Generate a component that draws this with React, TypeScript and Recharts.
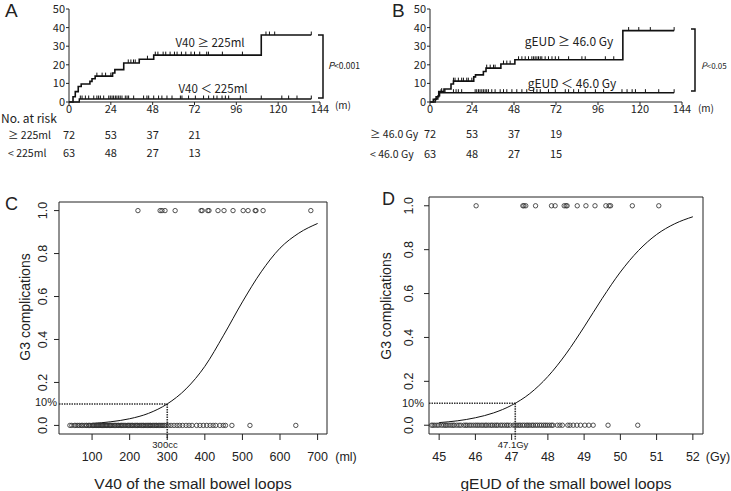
import React from 'react';
import { ComposedChart, Line, Scatter, XAxis, YAxis, ReferenceLine, ReferenceArea } from 'recharts';

const JP = '"Noto Sans CJK JP", "Liberation Sans", sans-serif';
const SANS = '"Liberation Sans", Arial, sans-serif';
const INK = '#222';

// ---- A / B: cumulative incidence (%) by month ----
const monthTicks = [0, 24, 48, 72, 96, 120, 144];
const pctTicks = [0, 10, 20, 30, 40, 50];
const riskMonths = [0, 24, 48, 72];

const v40High = [
  { m: 0, v: 0 }, { m: 2.3, v: 2.8 }, { m: 3.6, v: 5.6 }, { m: 5.3, v: 8.3 }, { m: 7, v: 9.7 },
  { m: 12, v: 11.1 }, { m: 13.2, v: 12.5 }, { m: 15, v: 13.9 }, { m: 25, v: 15.6 }, { m: 26.3, v: 17.4 },
  { m: 31.4, v: 21 }, { m: 40.3, v: 23 }, { m: 48.6, v: 25.2 }, { m: 110.3, v: 36 }, { m: 139, v: 36 },
];
const v40Low = [{ m: 0, v: 0 }, { m: 5.9, v: 1.6 }, { m: 139, v: 1.6 }];
const v40HighCensor = [16, 19, 21, 24, 34, 35.5, 37, 38, 45, 49.5, 51, 54, 55.5, 58, 60.5, 62, 64.5, 67, 70, 72, 75, 79, 80, 88, 99.5, 113, 115, 118, 139];
const v40LowCensor = [6.5, 7.5, 9.4, 11.3, 14.2, 16, 17, 18, 19.9, 22.8, 23.7, 24.7, 25.6, 26.6, 27.5, 28.5, 29.4, 30.4, 32.3, 33.3, 34.2, 37.1, 42.8, 44.7, 45.7, 48.6, 51.4, 53.3, 56.2, 59.1, 63.9, 64.8, 68.6, 72.5, 77.2, 80.1, 83, 84.9, 87.8, 89.7, 91.6, 98.3, 110.3, 122.1, 126, 130.8, 139];
const v40RiskHigh = [72, 53, 37, 21];
const v40RiskLow = [63, 48, 27, 13];

const geudHigh = [
  { m: 0, v: 0 }, { m: 1.9, v: 1.4 }, { m: 3.5, v: 2.8 }, { m: 5, v: 5.6 }, { m: 8, v: 7 },
  { m: 12, v: 9.7 }, { m: 13.4, v: 11.2 }, { m: 25, v: 13.5 }, { m: 26, v: 14.6 }, { m: 30.5, v: 16.4 },
  { m: 32, v: 18.2 }, { m: 40.5, v: 20.4 }, { m: 48.5, v: 22.7 }, { m: 110.2, v: 38.4 }, { m: 139.5, v: 38.4 },
];
const geudLow = [{ m: 0, v: 0 }, { m: 3, v: 1.6 }, { m: 4.5, v: 3.3 }, { m: 5.5, v: 5 }, { m: 139.5, v: 5 }];
const geudHighCensor = [6.7, 13.4, 14.3, 16.2, 18.1, 19.1, 21, 21.9, 23.9, 32.4, 34.4, 36.3, 37.2, 42, 43.9, 45.8, 50.6, 52.5, 54.4, 56.3, 58.2, 59.2, 60.1, 61.1, 62, 63, 63.9, 65.8, 67.7, 69.7, 71.6, 73.5, 79.2, 86.8, 88.7, 100.2, 105, 113.5, 119.3, 125.9, 139.5];
const geudLowCensor = [6.3, 8.6, 13.4, 14.9, 16.2, 18.1, 25.8, 26.7, 27.7, 28.6, 29.6, 30.5, 31.5, 32.4, 33.4, 35.3, 37.2, 40.1, 42, 43.9, 46.8, 49.6, 52.5, 55.3, 59.2, 61.1, 63, 67.7, 71.6, 77.3, 79.2, 82.1, 84.9, 88.7, 94.5, 99.2, 109.7, 112.6, 115.5, 117.4, 123.1, 130.7, 139.5];
const geudRiskHigh = [72, 53, 37, 19];
const geudRiskLow = [63, 48, 27, 15];

// ---- C / D: probability of G3 complications ----
const probTicks = [0, 0.2, 0.4, 0.6, 0.8, 1.0];

const v40Ticks = [100, 200, 300, 400, 500, 600, 700];
const v40Curve = [
  { x: 100, y: 0.009 }, { x: 150, y: 0.017 }, { x: 200, y: 0.031 }, { x: 250, y: 0.056 }, { x: 300, y: 0.1 },
  { x: 350, y: 0.17 }, { x: 400, y: 0.275 }, { x: 450, y: 0.42 }, { x: 500, y: 0.575 }, { x: 550, y: 0.715 },
  { x: 600, y: 0.825 }, { x: 650, y: 0.895 }, { x: 700, y: 0.94 },
];
const v40Events = [222, 281, 286, 294, 321, 390, 393, 408, 411, 435, 451, 475, 502, 515, 534, 536, 555, 682];
const v40NoEvents = [41, 46, 53, 57, 62, 66, 71, 74, 79, 84, 86, 91, 93, 97, 101, 103, 105, 108, 111, 113, 116, 118, 121, 124, 126, 128, 131, 134, 137, 139, 142, 146, 148, 150, 153, 156, 160, 162, 166, 169, 171, 175, 178, 180, 183, 187, 190, 194, 197, 199, 203, 206, 208, 212, 216, 219, 221, 225, 228, 232, 235, 237, 241, 244, 248, 251, 254, 256, 260, 263, 267, 270, 272, 276, 279, 283, 286, 289, 293, 297, 303, 310, 318, 326, 333, 341, 350, 358, 366, 378, 387, 396, 405, 414, 422, 429, 440, 449, 455, 472, 520, 642];

const geudTicks = [45, 46, 47, 48, 49, 50, 51, 52];
const geudCurve = [
  { x: 45, y: 0.012 }, { x: 45.5, y: 0.02 }, { x: 46, y: 0.034 }, { x: 46.5, y: 0.056 }, { x: 47, y: 0.091 },
  { x: 47.5, y: 0.144 }, { x: 48, y: 0.222 }, { x: 48.5, y: 0.325 }, { x: 49, y: 0.448 }, { x: 49.5, y: 0.578 },
  { x: 50, y: 0.698 }, { x: 50.5, y: 0.796 }, { x: 51, y: 0.869 }, { x: 51.5, y: 0.918 }, { x: 52, y: 0.95 },
];
const geudEvents = [46.02, 47.31, 47.34, 47.39, 47.66, 48.1, 48.2, 48.45, 48.5, 48.53, 48.81, 49.05, 49.3, 49.6, 49.69, 49.73, 50.33, 51.06];
const geudNoEvents = [44.79, 44.83, 44.88, 44.94, 44.99, 45.06, 45.12, 45.17, 45.21, 45.27, 45.33, 45.38, 45.42, 45.49, 45.55, 45.6, 45.68, 45.73, 45.77, 45.83, 45.88, 45.94, 46.0, 46.05, 46.1, 46.16, 46.21, 46.27, 46.31, 46.37, 46.43, 46.47, 46.53, 46.58, 46.62, 46.69, 46.74, 46.8, 46.86, 46.9, 46.96, 47.05, 47.1, 47.15, 47.2, 47.24, 47.3, 47.35, 47.41, 47.45, 47.5, 47.56, 47.6, 47.66, 47.71, 47.77, 47.82, 47.88, 47.93, 47.98, 48.04, 48.1, 48.14, 48.26, 48.33, 48.4, 48.55, 48.61, 48.7, 48.8, 48.9, 49.02, 49.13, 49.25, 49.66, 50.48];

const levelAt = (steps: { m: number; v: number }[], m: number) => {
  let v = 0;
  for (const s of steps) if (s.m <= m) v = s.v;
  return v;
};
const censorPts = (steps: { m: number; v: number }[], months: number[]) =>
  months.map(m => ({ m, v: levelAt(steps, m) }));

const CensorMark = (p: any) => (
  <line x1={p.cx} x2={p.cx} y1={p.cy - 3.5} y2={p.cy} stroke="#111" strokeWidth={1} />
);
const OpenCircle = (p: any) => (
  <circle cx={p.cx} cy={p.cy} r={2.2} fill="none" stroke="#333" strokeWidth={0.85} />
);

function KMPanel({ left, width, marginLeft, marginRight, high, low, highCensor, lowCensor }: any) {
  const tick = { fontSize: 11, fill: INK, fontFamily: JP };
  return (
    <div style={{ position: 'absolute', left, top: 0 }}>
      <ComposedChart width={width} height={120} margin={{ top: 9, right: marginRight, bottom: 0, left: marginLeft }}>
        <XAxis type="number" dataKey="m" domain={[0, 144]} ticks={monthTicks} interval={0} height={18}
          tickSize={3} tickMargin={0} stroke={INK} tick={tick} />
        <YAxis type="number" dataKey="v" domain={[0, 50]} ticks={pctTicks} interval={0} width={29}
          tickSize={3} tickMargin={1} stroke={INK} tick={tick} />
        <Line data={low} type="stepAfter" dataKey="v" stroke="#111" strokeWidth={1.4} dot={false} isAnimationActive={false} />
        <Line data={high} type="stepAfter" dataKey="v" stroke="#111" strokeWidth={1.6} dot={false} isAnimationActive={false} />
        <Scatter data={censorPts(low, lowCensor)} dataKey="v" shape={CensorMark} isAnimationActive={false} />
        <Scatter data={censorPts(high, highCensor)} dataKey="v" shape={CensorMark} isAnimationActive={false} />
      </ComposedChart>
    </div>
  );
}

function LogitPanel({ left, top, width, height, margin, domainX, xTicks, curve, events, noEvents, cut, labelOff }: any) {
  const RotTick = (p: any) => {
    const bx = p.x - labelOff;
    return (
      <text x={bx} y={p.y} transform={`rotate(-90 ${bx} ${p.y})`} textAnchor="middle"
        fontSize={12.5} fill={INK} fontFamily={SANS}>
        {Number(p.payload.value).toFixed(1)}
      </text>
    );
  };
  return (
    <div style={{ position: 'absolute', left, top }}>
      <ComposedChart width={width} height={height} margin={margin}>
        <XAxis type="number" dataKey="x" domain={domainX} ticks={xTicks} interval={0} height={30}
          axisLine={false} tickSize={6} tickMargin={12} stroke={INK}
          tick={{ fontSize: 12.5, fill: INK, fontFamily: SANS }} />
        <YAxis type="number" dataKey="y" domain={[-0.04, 1.04]} ticks={probTicks} interval={0} width={30}
          axisLine={false} tickSize={5} tickMargin={0} stroke={INK} tick={RotTick} />
        <ReferenceArea x1={domainX[0]} x2={domainX[1]} y1={-0.04} y2={1.04} fill="none" stroke={INK} strokeWidth={1} />
        <ReferenceLine segment={[{ x: domainX[0], y: 0.1 }, { x: cut, y: 0.1 }]} stroke="#333"
          strokeWidth={1.6} strokeDasharray="1.5 1" ifOverflow="visible" />
        <ReferenceLine segment={[{ x: cut, y: 0.1 }, { x: cut, y: -0.065 }]} stroke="#333"
          strokeWidth={1.6} strokeDasharray="1.5 1" ifOverflow="visible" />
        <Line data={curve} type="monotone" dataKey="y" stroke="#111" strokeWidth={1} dot={false} isAnimationActive={false} />
        <Scatter data={noEvents.map((x: number) => ({ x, y: 0 }))} dataKey="y" shape={OpenCircle} isAnimationActive={false} />
        <Scatter data={events.map((x: number) => ({ x, y: 1 }))} dataKey="y" shape={OpenCircle} isAnimationActive={false} />
      </ComposedChart>
    </div>
  );
}

// x position of a month in the KM plot areas (same linear scale as the axes)
const kmX = (plotLeft: number, plotW: number, m: number) => plotLeft + (m / 144) * plotW;

export default function App() {
  const t = { fill: INK };
  return (
    <div style={{ position: 'relative', width: 731, height: 491, background: '#fff', overflow: 'hidden' }}>
      <style>{'body{margin:0}'}</style>
      <KMPanel left={0} width={360} marginLeft={40} marginRight={40}
        high={v40High} low={v40Low} highCensor={v40HighCensor} lowCensor={v40LowCensor} />
      <KMPanel left={360} width={371} marginLeft={41} marginRight={49}
        high={geudHigh} low={geudLow} highCensor={geudHighCensor} lowCensor={geudLowCensor} />
      <LogitPanel left={0} top={190} width={360} height={301} margin={{ top: 12, right: 33, bottom: 27, left: 29 }}
        domainX={[12, 725]} xTicks={v40Ticks} curve={v40Curve} events={v40Events} noEvents={v40NoEvents}
        cut={300} labelOff={6.5} />
      <LogitPanel left={365} top={185} width={366} height={306} margin={{ top: 12, right: 28, bottom: 27, left: 34 }}
        domainX={[44.72, 52.28]} xTicks={geudTicks} curve={geudCurve} events={geudEvents} noEvents={geudNoEvents}
        cut={47.1} labelOff={10.5} />

      <svg width={731} height={491} style={{ position: 'absolute', left: 0, top: 0, pointerEvents: 'none' }}>
        <g fontFamily={SANS} {...t}>
          <text x={5} y={17} fontSize={19}>A</text>
          <text x={392} y={17} fontSize={19}>B</text>
          <text x={5} y={210} fontSize={18}>C</text>
          <text x={382} y={205} fontSize={18}>D</text>
        </g>

        {/* A annotations */}
        <g fontFamily={JP} {...t} dominantBaseline="central">
          <text x={210} y={42} fontSize={11.5} textAnchor="middle">V40 ≥ 225ml</text>
          <text x={213} y={88} fontSize={11.5} textAnchor="middle">V40 ＜ 225ml</text>
          <text x={328} y={65} fontSize={8.5}><tspan fontStyle="italic" fontSize={9.5}>P</tspan>&lt;0.001</text>
          <text x={343} y={104} fontSize={10} textAnchor="middle">(m)</text>
          <text x={1} y={117} fontSize={12}>No. at risk</text>
          <text x={8} y={134} fontSize={10.5}>≥ 225ml</text>
          <text x={8} y={152} fontSize={10.5}>&lt; 225ml</text>
          {riskMonths.map((m, i) => (
            <text key={'ah' + m} x={kmX(69, 251, m)} y={134} fontSize={11} textAnchor="middle">{v40RiskHigh[i]}</text>
          ))}
          {riskMonths.map((m, i) => (
            <text key={'al' + m} x={kmX(69, 251, m)} y={152} fontSize={11} textAnchor="middle">{v40RiskLow[i]}</text>
          ))}
        </g>
        <path d="M318 35 H323 V98 H318" fill="none" stroke="#111" strokeWidth={1.5} />

        {/* B annotations */}
        <g fontFamily={JP} {...t} dominantBaseline="central">
          <text x={569} y={40} fontSize={12} textAnchor="middle">gEUD ≥ 46.0 Gy</text>
          <text x={572} y={82} fontSize={12} textAnchor="middle">gEUD ＜ 46.0 Gy</text>
          <text x={701} y={65} fontSize={8}><tspan fontStyle="italic" fontSize={9}>P</tspan>&lt;0.05</text>
          <text x={706} y={107} fontSize={10} textAnchor="middle">(m)</text>
          <text x={370} y={133} fontSize={10.5}>≥ 46.0 Gy</text>
          <text x={370} y={153} fontSize={10.5}>&lt; 46.0 Gy</text>
          {riskMonths.map((m, i) => (
            <text key={'bh' + m} x={kmX(430, 252, m)} y={133} fontSize={11} textAnchor="middle">{geudRiskHigh[i]}</text>
          ))}
          {riskMonths.map((m, i) => (
            <text key={'bl' + m} x={kmX(430, 252, m)} y={153} fontSize={11} textAnchor="middle">{geudRiskLow[i]}</text>
          ))}
        </g>
        <path d="M691 29 H695 V91 H691" fill="none" stroke="#111" strokeWidth={1.5} />

        {/* C / D annotations */}
        <g fontFamily={SANS} {...t} dominantBaseline="central">
          <text x={25} y={307} fontSize={14} textAnchor="middle" transform="rotate(-90 25 307)">G3 complications</text>
          <text x={386} y={306} fontSize={14} textAnchor="middle" transform="rotate(-90 386 306)">G3 complications</text>
          <text x={57} y={402} fontSize={11} textAnchor="end">10%</text>
          <text x={424} y={403} fontSize={11} textAnchor="end">10%</text>
          <text x={165} y={444} fontSize={9.5} textAnchor="middle">300cc</text>
          <text x={513} y={444} fontSize={9.5} textAnchor="middle">47.1Gy</text>
          <text x={346} y={457} fontSize={12.5} textAnchor="middle">(ml)</text>
          <text x={718} y={457} fontSize={12.5} textAnchor="middle">(Gy)</text>
          <text x={193} y={483} fontSize={15.5} textAnchor="middle">V40 of the small bowel loops</text>
          <text x={566} y={483} fontSize={15.5} textAnchor="middle">gEUD of the small bowel loops</text>
        </g>
      </svg>
    </div>
  );
}
